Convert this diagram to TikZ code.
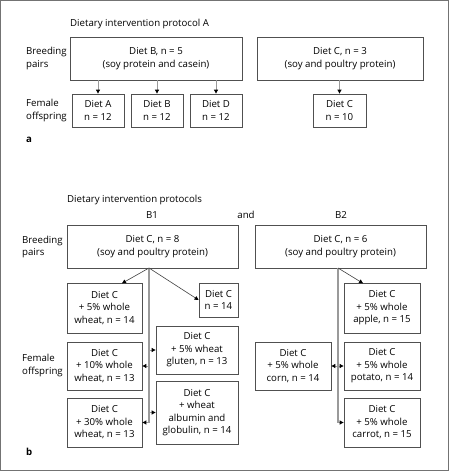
\documentclass[tikz,border=0pt]{standalone}
\usepackage{fontspec}
\setmainfont{Open Sans}
\usetikzlibrary{arrows.meta}
\definecolor{boxc}{HTML}{505050}
\definecolor{linec}{HTML}{9A9A9A}
\begin{document}
\begin{tikzpicture}[x=1bp,y=-1bp,
  every node/.style={font=\fontsize{9.7}{12.6}\selectfont, inner sep=0pt},
  bx/.style={draw=boxc, line width=0.8bp, align=center},
  lbl/.style={anchor=west, align=left},
  arr/.style={draw=linec, line width=0.9bp, -{Triangle[length=4bp,width=4bp,black]}},
  darr/.style={draw=linec, line width=0.9bp, {Triangle[length=4bp,width=4bp,black]}-{Triangle[length=4bp,width=4bp,black]}},
  trunk/.style={draw=linec, line width=1.3bp},
  diag/.style={draw=black!75, line width=0.6bp, -{Triangle[length=4bp,width=4bp,black]}}]
\useasboundingbox (0,0) rectangle (449,471);
\draw[draw=black!55, line width=1bp] (0.5,0.5) rectangle (448.5,470.5);

% ---------- panel a ----------
\node[lbl] (ta) at (70,24) {Dietary intervention protocol A};
\node[lbl] (bpa) at (26,58.5) {Breeding\\pairs};
\node[lbl] (foa) at (26,110.5) {Female\\offspring};
\node[lbl, font=\fontsize{9.7}{12.6}\selectfont\bfseries] (la) at (26,140) {a};

\node[bx, minimum width=172bp, minimum height=43bp] (aB) at (156,58.5) {Diet B, n = 5\\(soy protein and casein)};
\node[bx, minimum width=166bp, minimum height=43bp] (aC) at (340,58.5) {Diet C, n = 3\\(soy and poultry protein)};
\node[bx, minimum width=52bp, minimum height=33bp] (oA) at (98,110.5) {Diet A\\n = 12};
\node[bx, minimum width=52bp, minimum height=33bp] (oB) at (157,110.5) {Diet B\\n = 12};
\node[bx, minimum width=52bp, minimum height=33bp] (oD) at (216,110.5) {Diet D\\n = 12};
\node[bx, minimum width=53bp, minimum height=33bp] (oC) at (339.5,110.5) {Diet C\\n = 10};

\draw[arr] (oA.north |- aB.south) -- (oA.north);
\draw[arr] (oB.north |- aB.south) -- (oB.north);
\draw[arr] (oD.north |- aB.south) -- (oD.north);
\draw[arr] (oC.north |- aC.south) -- (oC.north);

% ---------- panel b ----------
\node[lbl] (tb) at (67,200) {Dietary intervention protocols};
\node (b1) at (152,215) {B1};
\node (and) at (246,215) {and};
\node (b2) at (341,215) {B2};
\node[lbl] (bpb) at (22,247) {Breeding\\pairs};
\node[lbl] (fob) at (22,365.5) {Female\\offspring};
\node[lbl, font=\fontsize{9.7}{12.6}\selectfont\bfseries] (lb) at (26,452) {b};

\node[bx, minimum width=171bp, minimum height=43bp] (B1) at (152.5,246.5) {Diet C, n = 8\\(soy and poultry protein)};
\node[bx, minimum width=171bp, minimum height=43bp] (B2) at (340.5,246.5) {Diet C, n = 6\\(soy and poultry protein)};

\node[bx, minimum width=75bp, minimum height=50bp] (w5) at (104.5,308) {Diet C\\+ 5\% whole\\wheat, n = 14};
\node[bx, minimum width=39bp, minimum height=34bp] (c14) at (218.5,300) {Diet C\\n = 14};
\node[bx, minimum width=82bp, minimum height=48bp] (glu) at (197,350) {Diet C\\+ 5\% wheat\\gluten, n = 13};
\node[bx, minimum width=75bp, minimum height=48bp] (w10) at (104.5,366) {Diet C\\+ 10\% whole\\wheat, n = 13};
\node[bx, minimum width=82bp, minimum height=63bp] (alb) at (197,412.5) {Diet C\\+ wheat\\albumin and\\globulin, n = 14};
\node[bx, minimum width=75bp, minimum height=49bp] (w30) at (104.5,422.5) {Diet C\\+ 30\% whole\\wheat, n = 13};

\node[bx, minimum width=76bp, minimum height=50bp] (apple) at (382,308) {Diet C\\+ 5\% whole\\apple, n = 15};
\node[bx, minimum width=76bp, minimum height=48bp] (potato) at (382,366) {Diet C\\+ 5\% whole\\potato, n = 14};
\node[bx, minimum width=76bp, minimum height=49bp] (carrot) at (382,422.5) {Diet C\\+ 5\% whole\\carrot, n = 15};
\node[bx, minimum width=76bp, minimum height=48bp] (corn) at (293,366) {Diet C\\+ 5\% whole\\corn, n = 14};

% B1 connectors
\coordinate (t1) at (149,268);
\coordinate (t1e) at (149,423);
\draw[trunk] (t1) -- (t1e);
\draw[diag] (t1) -- (122,283.3);
\draw[diag] (t1) -- (c14.west);
\draw[arr] (t1 |- glu.west) -- (glu.west);
\draw[arr] (t1 |- w10.east) -- (w10.east);
\draw[arr] (t1 |- alb.west) -- (alb.west);
\draw[arr] (t1 |- w30.east) -- (w30.east);

% B2 connectors
\coordinate (t2) at (338,268);
\coordinate (t2e) at (338,423);
\draw[trunk] (t2) -- (t2e);
\draw[diag] (t2) -- (363,283.3);
\draw[darr] (corn.east) -- (potato.west);
\draw[arr] (t2 |- carrot.west) -- (carrot.west);
\end{tikzpicture}
\end{document}
